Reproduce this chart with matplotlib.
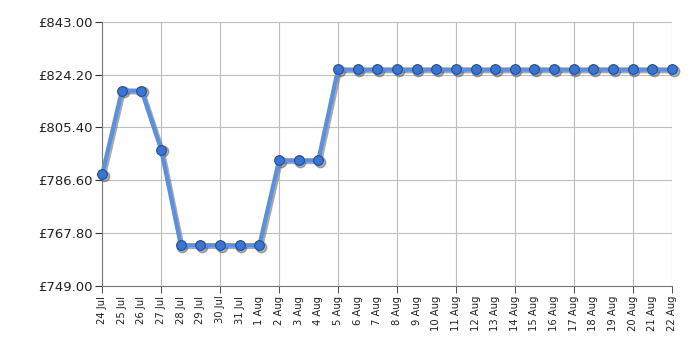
import matplotlib
matplotlib.use("Agg")
import matplotlib.pyplot as plt
import matplotlib.transforms as mtransforms

# --- donnees ---
DATES = ["24 Jul", "25 Jul", "26 Jul", "27 Jul", "28 Jul", "29 Jul", "30 Jul", "31 Jul",
         "1 Aug", "2 Aug", "3 Aug", "4 Aug", "5 Aug", "6 Aug", "7 Aug", "8 Aug", "9 Aug",
         "10 Aug", "11 Aug", "12 Aug", "13 Aug", "14 Aug", "15 Aug", "16 Aug", "17 Aug",
         "18 Aug", "19 Aug", "20 Aug", "21 Aug", "22 Aug"]
PRICES = [788.7, 818.5, 818.5, 797.5, 763.5, 763.5, 763.5, 763.5,
          763.5, 793.7, 793.7, 793.7, 826.0, 826.0, 826.0, 826.0, 826.0,
          826.0, 826.0, 826.0, 826.0, 826.0, 826.0, 826.0, 826.0,
          826.0, 826.0, 826.0, 826.0, 826.0]
YTICKS = [749.00, 767.80, 786.60, 805.40, 824.20, 843.00]

fig = plt.figure(figsize=(7, 3.5), dpi=100)
ax = fig.add_axes([0.146, 0.183, 0.814, 0.755])

x = list(range(len(DATES)))

# ombre portee (legerement decalee vers le bas-droite)
shadow = mtransforms.offset_copy(ax.transData, fig=fig, x=1.2, y=-1.2, units="points")
ax.plot(x, PRICES, color="#707070", linewidth=3.2, alpha=0.6, transform=shadow,
        solid_joinstyle="round", clip_on=False, zorder=3)
ax.plot(x, PRICES, linestyle="none", marker="o", markersize=7.5, color="#606060",
        alpha=0.5, transform=shadow, clip_on=False, zorder=3)
# ligne + points
ax.plot(x, PRICES, color="#5b8fe0", linewidth=3, solid_joinstyle="round",
        clip_on=False, zorder=4)
ax.plot(x, PRICES, linestyle="none", marker="o", markersize=7,
        markerfacecolor="#3d74cf", markeredgecolor="#1f4f9a", markeredgewidth=0.8,
        clip_on=False, zorder=5)

ax.set_xlim(0, len(DATES) - 1)
ax.set_ylim(YTICKS[0], YTICKS[-1])

# y : graduations
ax.set_yticks(YTICKS)
ax.set_yticklabels([f"£{v:.2f}" for v in YTICKS], fontsize=9.5, color="#222222")
ax.tick_params(axis="y", length=5, color="#333333", pad=2)

# x : tous les jours en labels, grille tous les 3 jours
ax.xaxis.remove_overlapping_locs = False
ax.set_xticks(x)
ax.set_xticklabels(DATES, rotation=90, fontsize=7.2, color="#222222")
ax.tick_params(axis="x", which="major", length=0, pad=7)
ax.set_xticks(list(range(0, len(DATES), 3)) + [len(DATES) - 1], minor=True)
ax.tick_params(axis="x", which="minor", length=5, color="#333333")

ax.grid(True, axis="y", color="#bdbdbd", linewidth=0.8)
ax.grid(True, axis="x", which="minor", color="#bdbdbd", linewidth=0.8)
ax.set_axisbelow(True)

for side in ("top", "right"):
    ax.spines[side].set_visible(False)
ax.spines["left"].set_color("#777777")
ax.spines["bottom"].set_color("#777777")

fig.savefig("out.png", dpi=100, facecolor="white")
